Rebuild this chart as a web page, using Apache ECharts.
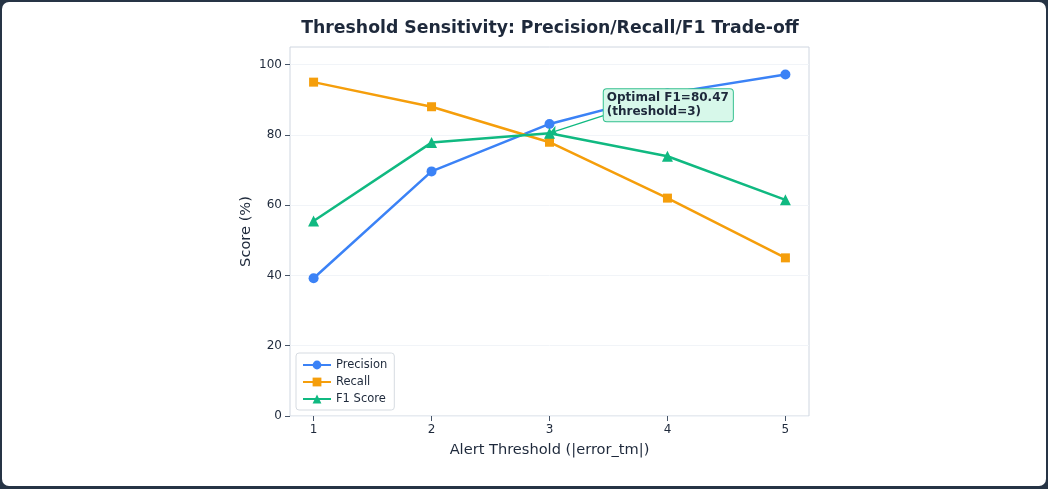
<!DOCTYPE html>
<html>
<head>
  <meta charset="utf-8">
  <script src="https://cdn.jsdelivr.net/npm/echarts@6.0.0/dist/echarts.min.js"></script>
  <style>
    body { margin: 0; background: #263445; }
    #chart { position: absolute; left: 2px; top: 2px; width: 1044px; height: 484px; background: #fff; border-radius: 7px; overflow: hidden; }
  </style>
</head>
<body>
  <div id="chart"></div>
  <script>
    // 数据
    var thresholds = [1, 2, 3, 4, 5];
    var precision = [39.2, 69.6, 83.1, 91.8, 97.2];
    var recall = [95.0, 88.0, 77.9, 62.0, 45.0];
    var f1 = [55.5, 77.8, 80.47, 73.9, 61.5];
    var yTicks = [0, 20, 40, 60, 80, 100];

    function pairs(vals) {
      return thresholds.map(function (t, i) { return [t, vals[i]]; });
    }

    var chart = echarts.init(document.getElementById('chart'));
    var font = 'DejaVu Sans';

    var option = {
      animation: false,
      textStyle: { fontFamily: font },
      title: {
        text: 'Threshold Sensitivity: Precision/Recall/F1 Trade-off',
        left: 543, top: 13, textAlign: 'center',
        textStyle: { fontFamily: font, fontSize: 17.3, fontWeight: 'bold', color: '#1e293b' }
      },
      legend: {
        orient: 'vertical', left: 294, top: 351,
        itemWidth: 28, itemHeight: 11, itemGap: 5,
        padding: [6, 7, 5, 6],
        borderColor: '#d6dbe1', borderWidth: 1, borderRadius: 3,
        backgroundColor: '#fff',
        textStyle: { fontFamily: font, fontSize: 11.5, color: '#1e293b' },
        data: ['Precision', 'Recall', 'F1 Score']
      },
      grid: {
        left: 288, right: 237, top: 45, bottom: 70,
        show: true, borderColor: '#cfd6e0', borderWidth: 1, backgroundColor: 'transparent'
      },
      xAxis: {
        type: 'value', min: 0.8, max: 5.2,
        name: 'Alert Threshold (|error_tm|)', nameLocation: 'middle', nameGap: 27,
        nameTextStyle: { fontFamily: font, fontSize: 14.6, color: '#1e293b' },
        axisLine: { show: false },
        axisTick: { show: true, length: 5, lineStyle: { color: '#475569' }, customValues: thresholds },
        axisLabel: { fontFamily: font, fontSize: 12, color: '#1e293b', margin: 8, customValues: thresholds },
        splitLine: { show: false }
      },
      yAxis: {
        type: 'value', min: 0, max: 105, interval: 20,
        name: 'Score (%)', nameLocation: 'middle', nameGap: 36,
        nameTextStyle: { fontFamily: font, fontSize: 14.6, color: '#1e293b' },
        axisLine: { show: false },
        axisTick: { show: true, length: 5, lineStyle: { color: '#475569' }, customValues: yTicks },
        axisLabel: { fontFamily: font, fontSize: 12, color: '#1e293b', margin: 8, customValues: yTicks },
        splitLine: { show: true, lineStyle: { color: '#f1f4f8', width: 1 } }
      },
      series: [
        {
          name: 'Precision', type: 'line', data: pairs(precision),
          symbol: 'circle', symbolSize: 10,
          itemStyle: { color: '#3b82f6' }, lineStyle: { width: 2.5, color: '#3b82f6' }
        },
        {
          name: 'Recall', type: 'line', data: pairs(recall),
          symbol: 'rect', symbolSize: 9,
          itemStyle: { color: '#f59e0b' }, lineStyle: { width: 2.5, color: '#f59e0b' }
        },
        {
          name: 'F1 Score', type: 'line', data: pairs(f1),
          symbol: 'triangle', symbolSize: 11,
          itemStyle: { color: '#10b981' }, lineStyle: { width: 2.5, color: '#10b981' },
          markLine: {
            silent: true, symbol: ['none', 'arrow'], symbolSize: 8,
            lineStyle: { color: '#10b981', width: 1.3, type: 'solid' },
            label: { show: false },
            data: [[{ coord: [3.47, 85.6] }, { coord: [3, 80.47] }]]
          },
          markPoint: {
            silent: true, symbol: 'rect', symbolSize: 0,
            data: [{
              coord: [3.46, 88.4],
              label: {
                show: true, position: [0, 0], align: 'left', verticalAlign: 'middle',
                formatter: 'Optimal F1=80.47\n(threshold=3)',
                fontFamily: font, fontSize: 12, fontWeight: 'bold', color: '#1e293b', lineHeight: 14,
                backgroundColor: '#d7f8ea', borderColor: '#34c08f', borderWidth: 1, borderRadius: 3,
                padding: [2, 4, 2, 3]
              }
            }]
          }
        }
      ]
    };

    chart.setOption(option);
  </script>
</body>
</html>
